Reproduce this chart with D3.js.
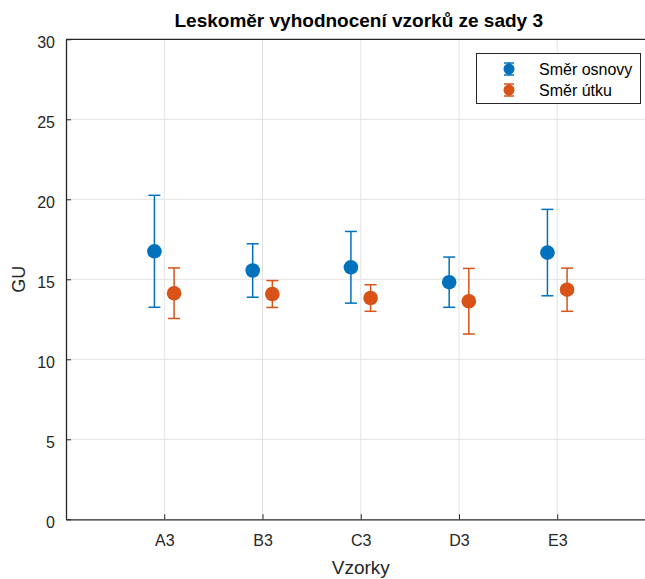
<!DOCTYPE html>
<html>
<head>
<meta charset="utf-8">
<script src="https://cdn.jsdelivr.net/npm/d3@7"></script>
<style>
  html, body { margin: 0; padding: 0; background: #fff; }
  svg { display: block; }
  text { font-family: "Liberation Sans", Arial, Helvetica, sans-serif; }
</style>
</head>
<body>
<svg id="chart" width="645" height="579"></svg>
<script>
// Samples and measured gloss (mean ± deviation, GU)
const categories = ["A3", "B3", "C3", "D3", "E3"];
const warpMean = [16.75, 15.55, 15.75, 14.82, 16.67];
const warpErr  = [3.5, 1.67, 2.24, 1.57, 2.7];
const weftMean = [14.13, 14.08, 13.83, 13.63, 14.35];
const weftErr  = [1.58, 0.84, 0.83, 2.05, 1.35];
const yTicks = [0, 5, 10, 15, 20, 25, 30];
const seriesNames = ["Směr osnovy", "Směr útku"];
const seriesColors = ["#0072BD", "#D95319"];

(function draw() {
const svg = d3.select("#chart");
const axisColor = "#262626";
const gridColor = "#e3e3e3";

const pLeft = 66, pTop = 39.3, pBottom = 519.3, pRight = 655.5;

const x = d3.scaleLinear().domain([0, categories.length + 1]).range([pLeft, pRight]);
const y = d3.scaleLinear().domain([0, 30]).range([pBottom, pTop]);

// grid
const grid = svg.append("g");
grid.selectAll("line.gx").data(categories).join("line")
  .attr("x1", (d, i) => x(i + 1)).attr("x2", (d, i) => x(i + 1))
  .attr("y1", pTop).attr("y2", pBottom)
  .attr("stroke", gridColor).attr("stroke-width", 1);
grid.selectAll("line.gy").data(yTicks.slice(1, -1)).join("line")
  .attr("x1", pLeft).attr("x2", pRight)
  .attr("y1", d => y(d)).attr("y2", d => y(d))
  .attr("stroke", gridColor).attr("stroke-width", 1);

// axes (ticks point inward)
const xAxis = d3.axisBottom(x)
  .tickValues(categories.map((d, i) => i + 1))
  .tickFormat((d) => categories[d - 1])
  .tickSizeInner(-5).tickSizeOuter(0).tickPadding(15);
const gx = svg.append("g").attr("transform", `translate(0,${pBottom})`).call(xAxis);
gx.select(".domain").attr("stroke", axisColor).attr("stroke-width", 1.3);
gx.selectAll(".tick line").attr("stroke", axisColor);
gx.selectAll(".tick text").attr("fill", axisColor).attr("font-size", 16);

const yAxis = d3.axisLeft(y).tickValues(yTicks)
  .tickSizeInner(-5).tickSizeOuter(0).tickPadding(11);
const gy = svg.append("g").attr("transform", `translate(${pLeft},0)`).call(yAxis);
gy.select(".domain").attr("stroke", axisColor).attr("stroke-width", 1.3);
gy.selectAll(".tick line").attr("stroke", axisColor);
gy.selectAll(".tick text").attr("fill", axisColor).attr("font-size", 16).attr("dy", "0.54em");

// top box edge
svg.append("line").attr("x1", pLeft).attr("x2", pRight).attr("y1", pTop).attr("y2", pTop)
  .attr("stroke", axisColor).attr("stroke-width", 1.3);

// error bars with markers
const series = [
  { mean: warpMean, err: warpErr, offset: -0.1, color: seriesColors[0] },
  { mean: weftMean, err: weftErr, offset: 0.1, color: seriesColors[1] }
];
const capHalf = 6;
series.forEach(s => {
  const g = svg.append("g");
  const rows = categories.map((c, i) => ({ xv: i + 1 + s.offset, m: s.mean[i], e: s.err[i] }));
  g.selectAll("line.v").data(rows).join("line")
    .attr("x1", d => x(d.xv)).attr("x2", d => x(d.xv))
    .attr("y1", d => y(d.m + d.e)).attr("y2", d => y(d.m - d.e))
    .attr("stroke", s.color).attr("stroke-width", 1.5);
  g.selectAll("line.t").data(rows).join("line")
    .attr("x1", d => x(d.xv) - capHalf).attr("x2", d => x(d.xv) + capHalf)
    .attr("y1", d => y(d.m + d.e)).attr("y2", d => y(d.m + d.e))
    .attr("stroke", s.color).attr("stroke-width", 1.5);
  g.selectAll("line.b").data(rows).join("line")
    .attr("x1", d => x(d.xv) - capHalf).attr("x2", d => x(d.xv) + capHalf)
    .attr("y1", d => y(d.m - d.e)).attr("y2", d => y(d.m - d.e))
    .attr("stroke", s.color).attr("stroke-width", 1.5);
  g.selectAll("circle").data(rows).join("circle")
    .attr("cx", d => x(d.xv)).attr("cy", d => y(d.m)).attr("r", 7.3)
    .attr("fill", s.color);
});

// title and axis labels
svg.append("text").attr("x", (pLeft + pRight) / 2 - 2).attr("y", 27)
  .attr("text-anchor", "middle").attr("font-size", 19).attr("font-weight", "bold")
  .attr("fill", "#000").text("Leskoměr vyhodnocení vzorků ze sady 3");
svg.append("text").attr("x", (pLeft + pRight) / 2).attr("y", 574)
  .attr("text-anchor", "middle").attr("font-size", 19).attr("fill", axisColor).text("Vzorky");
svg.append("text").attr("transform", `translate(25,${(pTop + pBottom) / 2}) rotate(-90)`)
  .attr("text-anchor", "middle").attr("font-size", 18).attr("fill", axisColor).text("GU");

// legend
const lg = svg.append("g");
lg.append("rect").attr("x", 476.5).attr("y", 53.5).attr("width", 164).attr("height", 50)
  .attr("fill", "#fff").attr("stroke", axisColor).attr("stroke-width", 1);
seriesNames.forEach((name, i) => {
  const cy = 69 + i * 21, cx = 509;
  const col = seriesColors[i];
  lg.append("line").attr("x1", cx).attr("x2", cx).attr("y1", cy - 6).attr("y2", cy + 6)
    .attr("stroke", col).attr("stroke-width", 1.5);
  [-6, 6].forEach(dy => lg.append("line").attr("x1", cx - 5).attr("x2", cx + 5)
    .attr("y1", cy + dy).attr("y2", cy + dy).attr("stroke", col).attr("stroke-width", 1.5));
  lg.append("circle").attr("cx", cx).attr("cy", cy).attr("r", 5.5).attr("fill", col);
  lg.append("text").attr("x", 539).attr("y", cy + 5.5).attr("font-size", 16)
    .attr("fill", "#000").text(name);
});
})();
</script>
</body>
</html>
